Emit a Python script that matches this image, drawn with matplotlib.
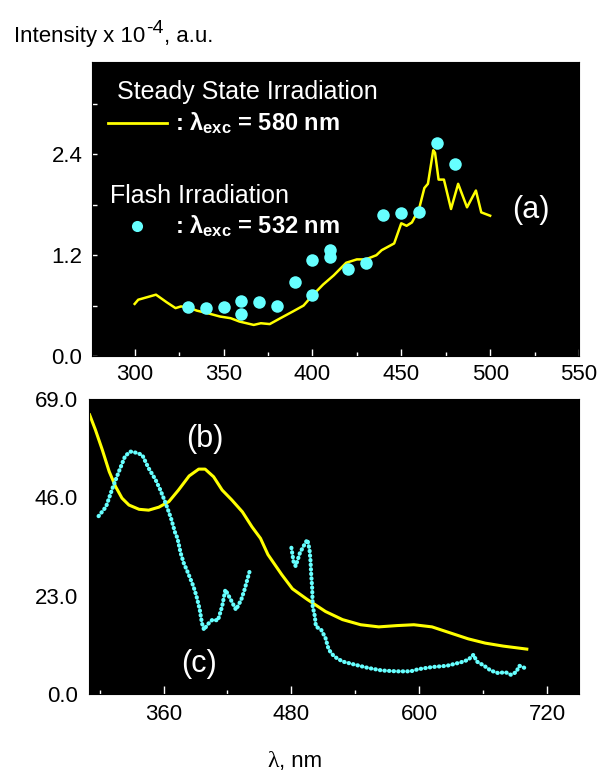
import matplotlib
matplotlib.use("Agg")
import matplotlib.pyplot as plt
from matplotlib.ticker import MultipleLocator

plt.rcParams['font.family'] = ['Liberation Sans', 'DejaVu Sans']
plt.rcParams['mathtext.fontset'] = 'custom'
plt.rcParams['mathtext.rm'] = 'Liberation Sans'
plt.rcParams['mathtext.bf'] = 'Liberation Sans:bold'
plt.rcParams['mathtext.it'] = 'Liberation Sans:italic'

YELLOW = '#FFFF00'
CYAN = '#66FFFF'

# (a) steady state irradiation, lambda_exc = 580 nm
ss_wl = [300, 302, 307, 312, 314, 318, 323, 326, 330, 335, 341, 348, 354,
         359, 367, 371, 376, 382, 389, 395, 400, 406, 412, 419, 425, 430,
         436, 439, 446, 450, 453, 456, 460, 463, 465, 468, 469, 471, 474,
         478, 482, 487, 492, 495, 500]
ss_int = [0.62, 0.67, 0.70, 0.73, 0.70, 0.64, 0.57, 0.59, 0.58, 0.54, 0.51,
          0.47, 0.45, 0.41, 0.37, 0.39, 0.38, 0.45, 0.53, 0.60, 0.72, 0.85,
          0.96, 1.11, 1.15, 1.15, 1.20, 1.26, 1.34, 1.58, 1.55, 1.59, 1.75,
          2.00, 2.05, 2.45, 2.42, 2.10, 2.10, 1.75, 2.05, 1.77, 1.97, 1.71,
          1.67]

# (a) flash irradiation, lambda_exc = 532 nm
fl_wl = [330, 340, 350, 360, 360, 370, 380, 390, 400, 400, 410, 410, 420,
         430, 440, 450, 460, 470, 480]
fl_int = [0.58, 0.57, 0.58, 0.66, 0.50, 0.64, 0.59, 0.88, 1.14, 0.73, 1.18,
          1.26, 1.04, 1.11, 1.68, 1.70, 1.72, 2.53, 2.28]

# (b) absorption, yellow
b_wl = [290.6, 296, 302.5, 309, 315, 321, 327.5, 337, 346, 355.6, 365, 374,
        384, 393, 399, 407, 415, 424, 434, 443, 451, 458, 471, 481, 495, 512,
        528, 545, 562, 579, 595, 612, 629, 646, 662, 679, 701]
b_val = [65.3, 61.8, 57.1, 52.0, 48.5, 45.8, 44.2, 43.2, 43.0, 43.7, 45.0,
         47.7, 51.0, 52.6, 52.6, 50.8, 47.7, 45.4, 42.6, 39.1, 36.4, 32.6,
         27.9, 24.6, 22.1, 19.3, 17.4, 16.2, 15.7, 16.0, 16.2, 15.7, 14.3,
         12.9, 11.9, 11.2, 10.5]

# (c) cyan, two pieces
c1_wl = [299, 306, 312, 318, 324, 329, 335, 340, 346, 352.5, 357, 362, 367,
         371, 373, 376, 379, 383, 388, 391, 394, 396, 398, 401, 406, 411,
         415, 418, 423, 428, 433, 436, 441]
c1_val = [41.6, 43.8, 48.1, 52.0, 55.7, 56.7, 56.4, 55.9, 52.8, 50.1, 47.7,
          44.6, 41.1, 37.6, 36.5, 33.0, 30.6, 28.3, 25.2, 22.8, 19.7, 16.6,
          15.0, 16.2, 17.4, 17.2, 20.5, 24.4, 22.1, 19.7, 22.1, 24.4, 28.9]
c2_wl = [480, 482, 484, 488, 493, 495, 497, 498, 498.5, 499.5, 500, 502,
         503, 508, 512, 515, 520, 528, 539, 552, 565, 579, 592, 599, 612,
         626, 639, 646, 651, 654, 661, 667, 674, 681, 686, 691, 694, 699, 701]
c2_val = [34.2, 31.0, 29.9, 33.0, 35.3, 36.1, 33.8, 31.0, 28.3, 24.8, 20.5,
          18.2, 15.8, 15.0, 13.1, 10.4, 8.8, 7.6, 6.9, 6.1, 5.5, 5.3, 5.3,
          5.8, 6.3, 6.6, 7.4, 8.0, 9.2, 7.6, 6.6, 5.5, 4.9, 5.1, 4.5, 5.1,
          6.6, 6.1, 5.7]

W, H = 602, 779
fig = plt.figure(figsize=(W / 100, H / 100), dpi=100)


def px_rect(x0, y0, x1, y1):
    return [x0 / W, 1 - y1 / H, (x1 - x0) / W, (y1 - y0) / H]


ax1 = fig.add_axes(px_rect(92, 62, 579, 356))
ax2 = fig.add_axes(px_rect(89, 399, 579, 694))

for ax in (ax1, ax2):
    ax.set_facecolor('black')
    for sp in ax.spines.values():
        sp.set_color('black')

# panel (a)
ax1.plot(ss_wl, ss_int, color=YELLOW, lw=1.8)
ax1.plot(fl_wl, fl_int, 'o', color=CYAN, ms=9, mec='none')
ax1.set_xlim(276, 550)
ax1.set_ylim(0, 3.5)
ax1.xaxis.set_major_locator(MultipleLocator(50))
ax1.xaxis.set_minor_locator(MultipleLocator(25))
ax1.yaxis.set_major_locator(MultipleLocator(1.2))
ax1.yaxis.set_minor_locator(MultipleLocator(0.6))
ax1.yaxis.set_major_formatter('{x:.1f}')
ax1.tick_params(axis='x', which='major', direction='in', length=5,
                width=1, color='white', labelsize=16, pad=6)
ax1.tick_params(axis='x', which='minor', direction='in', length=3,
                width=1, color='white')
ax1.tick_params(axis='y', which='both', direction='in', length=3.5,
                width=1, color='white', labelsize=16, pad=7)

ax1.text(0.051, 0.874, 'Steady State Irradiation', transform=ax1.transAxes,
         color='white', fontsize=18, va='baseline')
ax1.plot([0.033, 0.154], [0.794, 0.794], color=YELLOW, lw=2,
         transform=ax1.transAxes)
ax1.text(0.170, 0.767, r': λ$_{\mathbf{exc}}$ = 580 nm',
         transform=ax1.transAxes, color='white', fontsize=17,
         fontweight='bold', va='baseline')
ax1.text(0.037, 0.519, 'Flash Irradiation', transform=ax1.transAxes,
         color='white', fontsize=18, va='baseline')
ax1.plot([0.092], [0.443], 'o', color=CYAN, ms=8, mec='none',
         transform=ax1.transAxes)
ax1.text(0.170, 0.417, r': λ$_{\mathbf{exc}}$ = 532 nm',
         transform=ax1.transAxes, color='white', fontsize=17,
         fontweight='bold', va='baseline')
ax1.text(0.862, 0.497, '(a)', transform=ax1.transAxes, color='white',
         fontsize=22, va='center')

# panel (b) / (c)
ax2.plot(b_wl, b_val, color=YELLOW, lw=2.2)
for xs, ys in ((c1_wl, c1_val), (c2_wl, c2_val)):
    ax2.plot(xs, ys, color=CYAN, lw=3, ls=(0, (0.1, 1.0)),
             dash_capstyle='round')
ax2.set_xlim(290, 750)
ax2.set_ylim(0, 69)
ax2.xaxis.set_major_locator(MultipleLocator(120))
ax2.xaxis.set_minor_locator(MultipleLocator(60))
ax2.set_yticks([0, 23, 46, 69])
ax2.yaxis.set_major_formatter('{x:.1f}')
ax2.tick_params(axis='x', which='major', direction='in', length=6,
                width=1, color='white', labelsize=16, pad=7)
ax2.tick_params(axis='x', which='minor', direction='in', length=3,
                width=1, color='white')
ax2.tick_params(axis='y', which='both', length=0, labelsize=16, pad=8)

ax2.text(0.198, 0.865, '(b)', transform=ax2.transAxes, color='white',
         fontsize=22, va='center')
ax2.text(0.189, 0.102, '(c)', transform=ax2.transAxes, color='white',
         fontsize=22, va='center')

# y label at the top: superscript built from separate texts
t1 = fig.text(14 / W, 1 - 42 / H, 'Intensity x 10', fontsize=16,
              va='baseline')
t2 = fig.text(0, 0, '-4', fontsize=14, va='baseline')
t3 = fig.text(0, 0, ', a.u.', fontsize=16, va='baseline')
fig.canvas.draw()
r = fig.canvas.get_renderer()
inv = fig.transFigure.inverted()
bb1 = t1.get_window_extent(r)
x1 = inv.transform((bb1.x1 + 1, 0))[0]
t2.set_position((x1, 1 - 33 / H))
fig.canvas.draw()
bb2 = t2.get_window_extent(r)
x2 = inv.transform((bb2.x1, 0))[0]
t3.set_position((x2, 1 - 42 / H))

fig.text(267 / W, 1 - 767 / H, 'λ', family='Liberation Serif', fontsize=17,
         va='baseline')
fig.text(279 / W, 1 - 767 / H, ', nm', fontsize=16, va='baseline')

fig.savefig('out.png', dpi=100)
